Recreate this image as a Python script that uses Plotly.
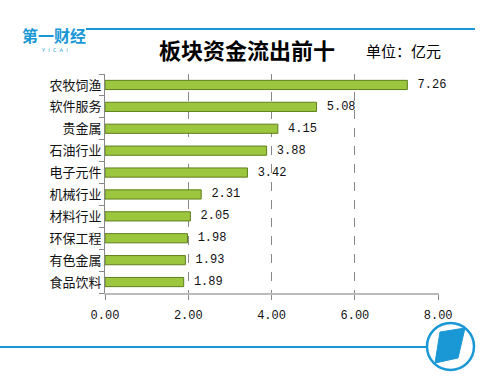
import plotly.graph_objects as go

categories = ["农牧饲渔", "软件服务", "贵金属", "石油行业", "电子元件",
              "机械行业", "材料行业", "环保工程", "有色金属", "食品饮料"]
values = [7.26, 5.08, 4.15, 3.88, 3.42, 2.31, 2.05, 1.98, 1.93, 1.89]
x_ticks = [0, 2, 4, 6, 8]
title_text = "板块资金流出前十"
unit_text = "单位：亿元"

W, H = 502, 388
ML, MR, MT, MB = 105, 63, 74, 95
PW, PH = W - ML - MR, H - MT - MB

def px(x):
    return (x - ML) / PW

def py(y):
    return (H - MB - y) / PH

BLUE = "#1a98d5"
CJK = "Noto Sans CJK SC"

fig = go.Figure(go.Bar(
    x=values, y=categories, orientation="h",
    width=0.42,
    marker=dict(color="#9cc63e", line=dict(color="#5f7f1c", width=1)),
    texttemplate="\u00a0%{x:.2f}", textposition="outside",
    constraintext="none",
    textfont=dict(family="Liberation Mono", size=12, color="#111"),
    cliponaxis=False,
))

fig.update_layout(
    width=W, height=H,
    margin=dict(l=ML, r=MR, t=MT, b=MB),
    paper_bgcolor="white", plot_bgcolor="white",
    showlegend=False,
    xaxis=dict(range=[0, 8.02], tickvals=x_ticks, tickformat=".2f",
               showgrid=True, gridcolor="#888", griddash="dash", gridwidth=1,
               showline=True, linecolor="#bbb", linewidth=2,
               ticks="outside", ticklen=5, tickcolor="#888",
               ticklabelstandoff=5,
               tickfont=dict(family="Liberation Mono", size=12, color="#111"),
               zeroline=False, fixedrange=True),
    yaxis=dict(categoryorder="array", categoryarray=categories[::-1],
               showline=True, linecolor="#888", linewidth=1,
               ticks="outside", ticklen=5, tickcolor="#888",
               tickson="boundaries",
               tickfont=dict(family=CJK, size=13, color="#111"),
               showgrid=False, fixedrange=True),
)

annotations = [
    dict(text="<b>" + title_text + "</b>", x=px(247), y=py(49), xref="paper", yref="paper",
         showarrow=False, font=dict(family=CJK, size=22, color="#000"),
         xanchor="center", yanchor="middle"),
    dict(text=unit_text, x=px(403), y=py(51), xref="paper", yref="paper",
         showarrow=False, font=dict(family=CJK, size=15, color="#000"),
         xanchor="center", yanchor="middle"),
    dict(text="<b>第一财经</b>", x=px(54), y=py(35), xref="paper", yref="paper",
         showarrow=False, font=dict(family=CJK, size=16, color=BLUE),
         xanchor="center", yanchor="middle"),
    dict(text="Y  I  C  A  I", x=px(54), y=py(50), xref="paper", yref="paper",
         showarrow=False, font=dict(family="DejaVu Sans", size=5, color=BLUE),
         xanchor="center", yanchor="middle"),
]

shapes = [
    dict(type="line", xref="paper", yref="paper", x0=px(86), x1=px(475), y0=py(29), y1=py(29),
         line=dict(color=BLUE, width=2)),
    dict(type="line", xref="paper", yref="paper", x0=px(0), x1=px(427), y0=py(347), y1=py(347),
         line=dict(color=BLUE, width=2)),
    dict(type="circle", xref="paper", yref="paper", x0=px(427), x1=px(474), y0=py(323), y1=py(370),
         line=dict(color=BLUE, width=2.5), fillcolor="white"),
    dict(type="path", xref="paper", yref="paper",
         path=f"M {px(440)},{py(332)} L {px(465)},{py(328)} L {px(458)},{py(358)} L {px(435)},{py(363)} Z",
         fillcolor=BLUE, line=dict(color=BLUE, width=1)),
]

fig.update_layout(annotations=annotations, shapes=shapes)
fig.write_html("out.html", config={"displayModeBar": False},
               post_script="document.body.style.margin='0';document.body.style.overflow='hidden';")
